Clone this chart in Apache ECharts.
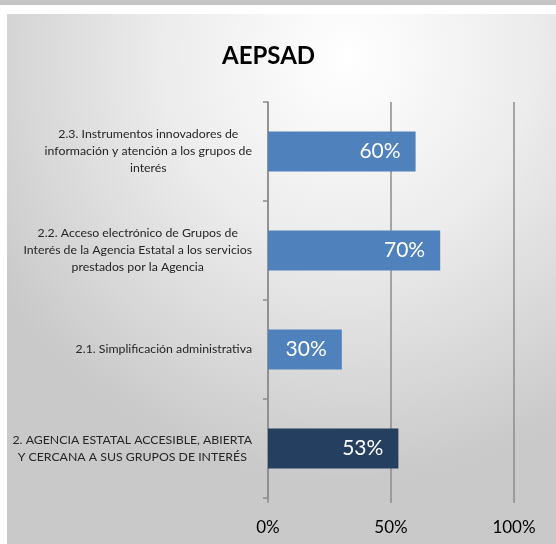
<!DOCTYPE html>
<html>
<head>
<meta charset="utf-8">
<script src="https://cdn.jsdelivr.net/npm/echarts@6/dist/echarts.min.js"></script>
<style>
html,body{margin:0;padding:0;width:556px;height:544px;overflow:hidden;background:#fff;}
#strip{position:absolute;left:0;top:0;width:556px;height:5px;background:#c4c4c4;}
#chart{position:absolute;left:7px;top:14px;width:549px;height:530px;
background:radial-gradient(ellipse 75% 80% at 62% 8%, #ffffff 0%, #ececec 45%, #d6d6d6 80%, #c9c9c9 100%);}
</style>
</head>
<body>
<div id="strip"></div>
<div id="chart"></div>
<script>
var titleText = 'AEPSAD';
var categories = [
  '2. AGENCIA ESTATAL ACCESIBLE, ABIERTA\nY CERCANA A SUS GRUPOS DE INTERÉS',
  '2.1. Simplificación administrativa',
  '2.2. Acceso electrónico de Grupos de\nInterés de la Agencia Estatal a los servicios\nprestados por la Agencia',
  '2.3. Instrumentos innovadores de\ninformación y atención a los grupos de\ninterés'
];
var values = [53, 30, 70, 60];
var xTicks = [0, 50, 100];

var barColors = ['#243f60', '#4f81bd', '#4f81bd', '#4f81bd'];

var chart = echarts.init(document.getElementById('chart'), null, {renderer: 'canvas'});
var font = 'Lato, "Open Sans", sans-serif';
chart.setOption({
  backgroundColor: 'transparent',
  animation: false,
  title: {
    text: titleText,
    left: 210,
    top: 25,
    textStyle: {fontFamily: font, fontWeight: 'bold', fontSize: 24, color: '#000'}
  },
  grid: {left: 261, right: 42, top: 88, bottom: 46, containLabel: false},
  xAxis: {
    type: 'value',
    min: xTicks[0],
    max: xTicks[xTicks.length - 1],
    interval: xTicks[1] - xTicks[0],
    axisLine: {show: false},
    axisTick: {show: true, length: 5, lineStyle: {color: '#8c8c8c', width: 1.5}},
    splitLine: {show: true, lineStyle: {color: '#8c8c8c', width: 1.5}},
    axisLabel: {
      formatter: '{value}%',
      fontFamily: font, fontSize: 17, color: '#000', margin: 21
    }
  },
  yAxis: {
    type: 'category',
    data: categories,
    axisLine: {show: true, lineStyle: {color: '#8c8c8c', width: 1.5}},
    axisTick: {show: true, length: 5, lineStyle: {color: '#8c8c8c', width: 1.5}},
    axisLabel: {
      margin: 16,
      align: 'right',
      formatter: function (v) {
        return v.split('\n').map(function (l) { return '{c|' + l + '}'; }).join('\n');
      },
      rich: {
        c: {align: 'center', fontFamily: font, fontSize: 12.3, lineHeight: 17, color: '#262626'}
      }
    }
  },
  series: [{
    type: 'bar',
    barWidth: 40,
    data: values.map(function (v, i) {
      return {value: v, itemStyle: {color: barColors[i]}};
    }),
    label: {
      show: true,
      position: 'insideRight',
      distance: 15,
      formatter: '{c}%',
      fontFamily: font, fontSize: 21, color: '#fff'
    }
  }]
});
</script>
</body>
</html>
